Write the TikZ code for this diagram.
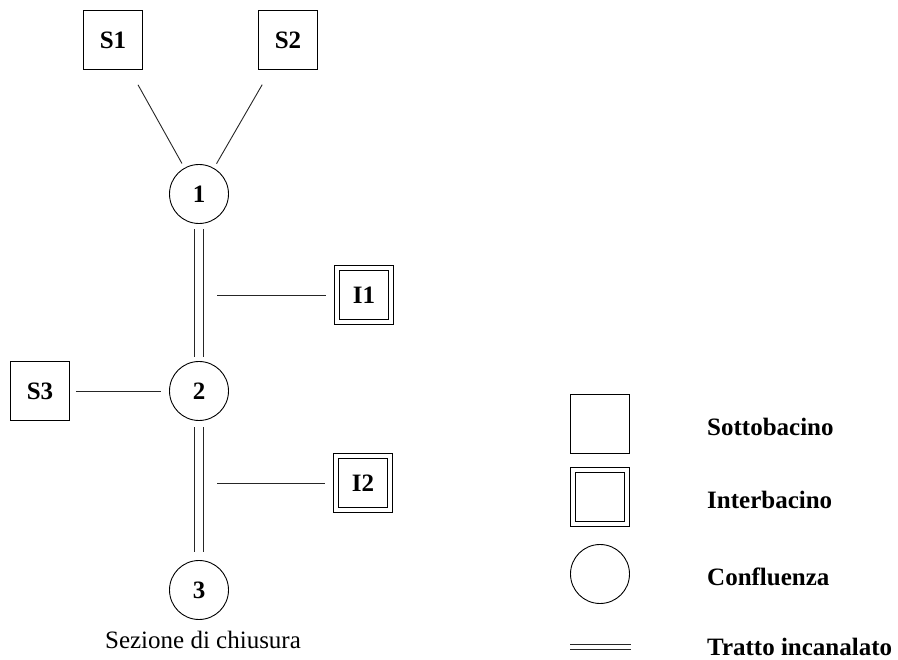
\documentclass[tikz,border=0pt]{standalone}
\usepackage{fontspec}
\setmainfont{Liberation Serif}
\usetikzlibrary{positioning,calc}
\tikzset{
  bfont/.style={font=\fontsize{25}{30}\selectfont\bfseries},
  sbox/.style={draw=black,line width=0.9pt,minimum size=59pt,inner sep=0pt,bfont},
  ibox/.style={draw=black,line width=0.9pt,double,double distance=3.6pt,
    minimum size=54pt,inner sep=0pt,bfont},
  conf/.style={circle,draw=black,line width=0.9pt,minimum size=59pt,
    inner sep=0pt,bfont},
  link/.style={line width=0.9pt,black!85},
  chan/.style={line width=0.9pt,double,double distance=8pt,black!85},
  leglbl/.style={anchor=west,inner sep=0pt,bfont},
}

\begin{document}
\begin{tikzpicture}[x=1pt,y=-1pt]
  \useasboundingbox (0,0) rectangle (898,660);
  % rete
  \node[sbox] (S1) at (113,40) {S1};
  \node[sbox] (S2) at (288,40) {S2};
  \node[conf] (1) at (199,194) {1};
  \node[conf] (2) at (199,391) {2};
  \node[conf] (3) at (199,590) {3};
  \node[sbox] (S3) at (40,391) {S3};
  \node[ibox] (I1) at (364,295) {I1};
  \node[ibox] (I2) at (363,483) {I2};
  \coordinate (c1) at (199,295);
  \coordinate (c2) at (199,483);
  \draw[link,shorten <=17pt,shorten >=5pt] (S1) -- (1);
  \draw[link,shorten <=17pt,shorten >=5pt] (S2) -- (1);
  \draw[chan,shorten <=5pt,shorten >=4pt] (1) -- (2);
  \draw[chan,shorten <=6pt,shorten >=8pt] (2) -- (3);
  \draw[link,shorten <=18pt,shorten >=11pt] (c1) -- (I1);
  \draw[link,shorten <=18pt,shorten >=11pt] (c2) -- (I2);
  \draw[link,shorten <=6pt,shorten >=8pt] (S3) -- (2);
  \node[font=\fontsize{25}{30}\selectfont] (sez) at (203,640) {Sezione di chiusura};
  % legenda
  \node[sbox] (lS) at (600,424) {};
  \node[ibox] (lI) at (600,497) {};
  \node[conf] (lC) at (600,574) {};
  \coordinate (lTa) at (570,647);
  \coordinate (lTb) at (631,647);
  \draw[line width=0.8pt,double,double distance=4pt,black!85] (lTa) -- (lTb);
  \node[leglbl] (tS) at (707,427) {Sottobacino};
  \node[leglbl] (tI) at (707,500) {Interbacino};
  \node[leglbl] (tC) at (707,577) {Confluenza};
  \node[leglbl] (tT) at (707,647) {Tratto incanalato};
\end{tikzpicture}
\end{document}
